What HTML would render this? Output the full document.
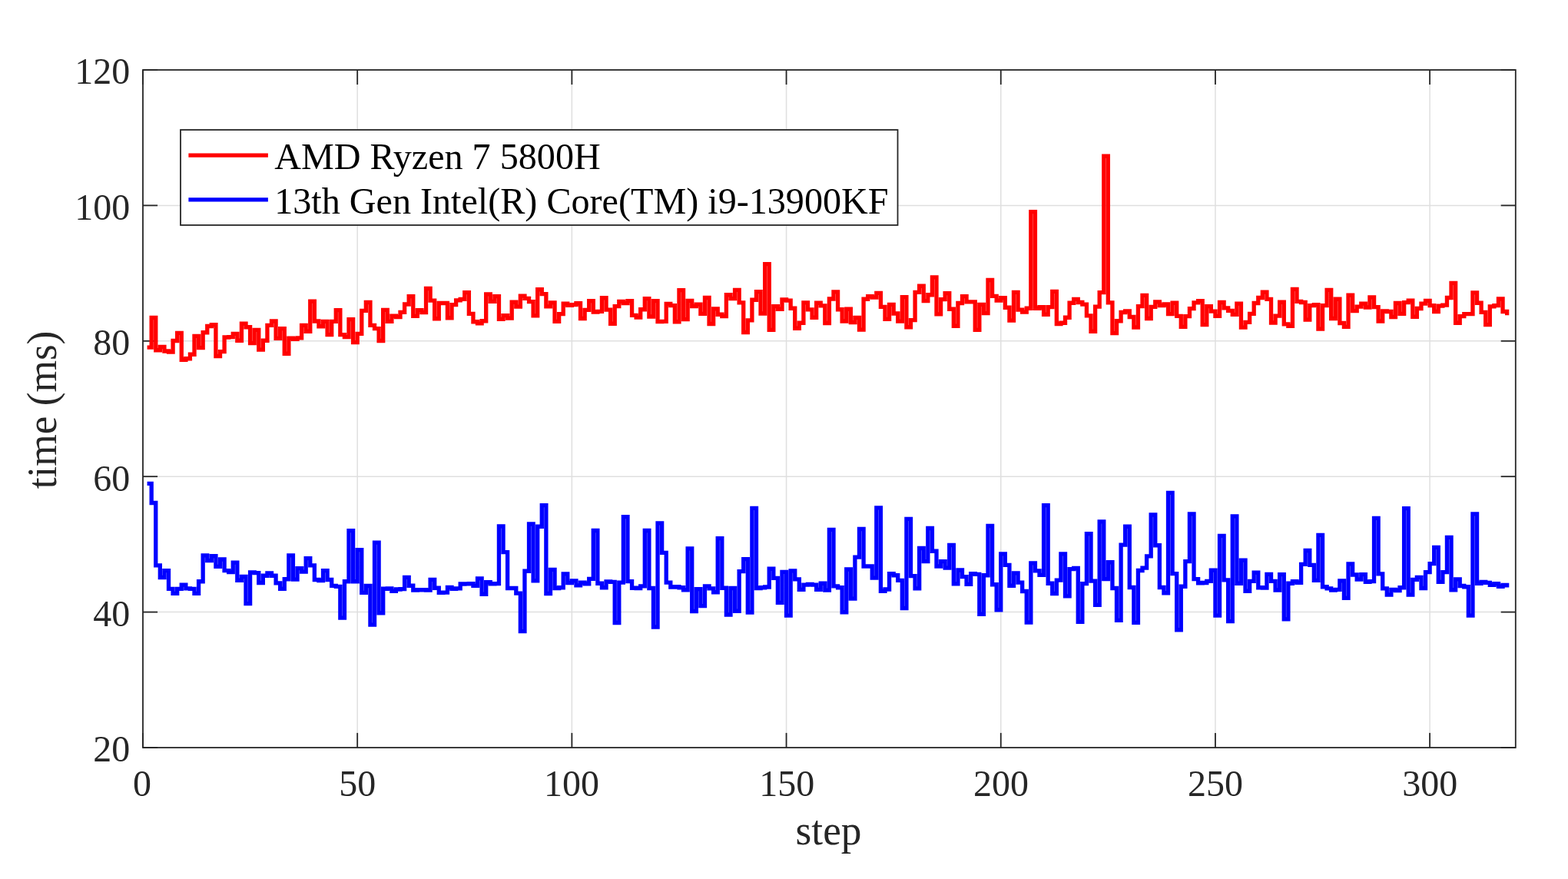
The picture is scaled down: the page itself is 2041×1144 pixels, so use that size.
<!DOCTYPE html>
<html lang="en">
<head>
<meta charset="utf-8">
<title>step time comparison</title>
<style>
html,body{margin:0;padding:0;background:#fff;}
body{width:2041px;height:1144px;overflow:hidden;position:relative;}
svg{position:absolute;left:0;top:0;display:block;}
text{font-family:"Liberation Serif",serif;fill:#262626;}
.tick{font-size:48px;}
.lab{font-size:53.3px;}
.leg{font-size:48.15px;fill:#000000;}
</style>
</head>
<body>
<svg width="2041" height="1144" viewBox="0 0 2041 1144">
<rect x="0" y="0" width="2041" height="1144" fill="#ffffff"/>
<g stroke="#dfdfdf" stroke-width="1.5" fill="none">
<line x1="465.19" y1="91.0" x2="465.19" y2="973.0"/>
<line x1="744.38" y1="91.0" x2="744.38" y2="973.0"/>
<line x1="1023.56" y1="91.0" x2="1023.56" y2="973.0"/>
<line x1="1302.75" y1="91.0" x2="1302.75" y2="973.0"/>
<line x1="1581.94" y1="91.0" x2="1581.94" y2="973.0"/>
<line x1="1861.12" y1="91.0" x2="1861.12" y2="973.0"/>
<line x1="186.0" y1="796.60" x2="1972.8" y2="796.60"/>
<line x1="186.0" y1="620.20" x2="1972.8" y2="620.20"/>
<line x1="186.0" y1="443.80" x2="1972.8" y2="443.80"/>
<line x1="186.0" y1="267.40" x2="1972.8" y2="267.40"/>
</g>
<g stroke="#262626" stroke-width="1.8" fill="none" stroke-linecap="butt">
<rect x="186.0" y="91.0" width="1786.8" height="882.0"/>
<line x1="186.00" y1="973.0" x2="186.00" y2="953.9"/><line x1="186.00" y1="91.0" x2="186.00" y2="110.1"/>
<line x1="465.19" y1="973.0" x2="465.19" y2="953.9"/><line x1="465.19" y1="91.0" x2="465.19" y2="110.1"/>
<line x1="744.38" y1="973.0" x2="744.38" y2="953.9"/><line x1="744.38" y1="91.0" x2="744.38" y2="110.1"/>
<line x1="1023.56" y1="973.0" x2="1023.56" y2="953.9"/><line x1="1023.56" y1="91.0" x2="1023.56" y2="110.1"/>
<line x1="1302.75" y1="973.0" x2="1302.75" y2="953.9"/><line x1="1302.75" y1="91.0" x2="1302.75" y2="110.1"/>
<line x1="1581.94" y1="973.0" x2="1581.94" y2="953.9"/><line x1="1581.94" y1="91.0" x2="1581.94" y2="110.1"/>
<line x1="1861.12" y1="973.0" x2="1861.12" y2="953.9"/><line x1="1861.12" y1="91.0" x2="1861.12" y2="110.1"/>
<line x1="186.0" y1="973.00" x2="205.1" y2="973.00"/><line x1="1972.8" y1="973.00" x2="1953.7" y2="973.00"/>
<line x1="186.0" y1="796.60" x2="205.1" y2="796.60"/><line x1="1972.8" y1="796.60" x2="1953.7" y2="796.60"/>
<line x1="186.0" y1="620.20" x2="205.1" y2="620.20"/><line x1="1972.8" y1="620.20" x2="1953.7" y2="620.20"/>
<line x1="186.0" y1="443.80" x2="205.1" y2="443.80"/><line x1="1972.8" y1="443.80" x2="1953.7" y2="443.80"/>
<line x1="186.0" y1="267.40" x2="205.1" y2="267.40"/><line x1="1972.8" y1="267.40" x2="1953.7" y2="267.40"/>
<line x1="186.0" y1="91.00" x2="205.1" y2="91.00"/><line x1="1972.8" y1="91.00" x2="1953.7" y2="91.00"/>
</g>
<path d="M191.58 452.08H197.17V413.49H202.75V455.75H208.34V451.46H213.92V456.98H219.50V458.20H225.09V443.50H230.67V433.34H236.25V468.25H241.84V466.78H247.42V461.26H253.00V437.38H258.59V452.69H264.17V432.72H269.76V424.52H275.34V422.68H280.92V463.47H286.51V457.59H292.09V438.97H297.68V438.60H303.26V434.32H308.84V443.26H314.43V421.09H320.01V425.74H325.59V446.57H331.18V429.42H336.76V455.14H342.35V443.26H347.93V423.29H353.51V418.03H359.10V440.44H364.68V427.58H370.26V460.28H375.85V440.20H381.43V441.42H387.01V439.83H392.60V423.29H398.18V431.25H403.77V392.06H409.35V418.03H414.93V424.76H420.52V418.39H426.10V435.54H431.69V418.39H437.27V403.69H442.85V435.54H448.44V438.60H454.02V415.58H459.60V445.59H465.19V434.32H470.77V404.31H476.35V393.53H481.94V423.29H487.52V427.58H493.11V443.50H498.69V403.33H504.27V418.39H509.86V411.04H515.44V412.51H521.02V406.39H526.61V395.98H532.19V385.69H537.78V411.29H543.36V403.69H548.94V406.51H554.53V375.52H560.11V391.20H565.69V414.72H571.28V394.51H576.86V394.51H582.45V413.74H588.03V396.59H593.61V390.83H599.20V389.36H604.78V380.67H610.37V408.35H615.95V418.76H621.53V420.84H627.12V417.78H632.70V382.87H638.28V392.43H643.87V385.57H649.45V415.33H655.03V410.68H660.62V414.11H666.20V393.04H671.79V399.04H677.37V385.08H682.95V388.38H688.54V392.67H694.12V410.80H699.71V376.75H705.29V382.63H710.87V398.79H716.46V393.90H722.04V418.39H727.62V408.59H733.21V395.12H738.79V397.32H744.38V396.59H749.96V394.75H755.54V414.47H761.13V403.33H766.71V391.69H772.29V406.14H777.88V405.29H783.46V387.77H789.04V403.08H794.63V421.21H800.21V398.55H805.80V392.43H811.38V394.51H816.96V391.69H822.55V410.43H828.13V413.13H833.71V402.71H839.30V388.63H844.88V412.02H850.47V391.69H856.05V418.64H861.63V418.39H867.22V395.37H872.80V397.57H878.38V418.76H883.97V377.60H889.55V415.58H895.14V391.45H900.72V398.55H906.30V396.10H911.89V408.35H917.47V387.53H923.06V421.46H928.64V401.86H934.22V409.21H939.81V411.66H945.39V383.73H950.97V388.63H956.56V377.36H962.14V393.90H967.73V432.48H973.31V416.80H978.89V390.22H984.48V379.56H990.06V407.98H995.64V343.67H1001.23V429.42H1006.81V398.55H1012.39V402.22H1017.98V389.98H1023.56V391.20H1029.15V401.24H1034.73V427.21H1040.31V420.23H1045.90V393.90H1051.48V402.84H1057.07V413.25H1062.65V394.26H1068.23V397.81H1073.82V420.48H1079.40V389.00H1084.98V379.81H1090.57V402.71H1096.15V418.03H1101.74V402.22H1107.32V419.62H1112.90V413.49H1118.49V429.17H1124.07V389.24H1129.65V385.57H1135.24V387.16H1140.82V381.40H1146.40V399.41H1151.99V415.33H1157.57V396.34H1163.16V407.98H1168.74V418.15H1174.32V386.55H1179.91V425.74H1185.49V416.56H1191.08V380.42H1196.66V372.21H1202.24V391.69H1207.83V383.73H1213.41V360.82H1218.99V408.84H1224.58V389.61H1230.16V381.65H1235.74V402.22H1241.33V424.27H1246.91V394.51H1252.50V385.57H1258.08V392.92H1263.66V392.92H1269.25V429.42H1274.83V396.34H1280.41V407.61H1286.00V364.50H1291.58V385.32H1297.17V391.20H1302.75V387.77H1308.33V400.26H1313.92V417.17H1319.50V380.42H1325.09V403.08H1330.67V406.14H1336.25V401.24H1341.84V275.60H1347.42V401.24H1353.00V399.77H1358.59V409.21H1364.17V399.65H1369.75V379.44H1375.34V421.46H1380.92V420.23H1386.51V413.25H1392.09V394.26H1397.67V389.36H1403.26V393.53H1408.84V396.10H1414.42V410.80H1420.01V431.25H1425.59V399.04H1431.18V380.67H1436.76V203.05H1442.34V393.90H1447.93V433.70H1453.51V417.78H1459.09V406.51H1464.68V404.92H1470.26V412.51H1475.85V425.99H1481.43V398.55H1487.01V384.34H1492.60V414.47H1498.18V399.41H1503.76V392.92H1509.35V397.57H1514.93V395.98H1520.52V408.59H1526.10V394.26H1531.68V411.41H1537.27V425.37H1542.85V411.66H1548.43V401.61H1554.02V393.90H1559.60V391.69H1565.19V422.68H1570.77V398.55H1576.35V405.16H1581.94V411.41H1587.52V393.53H1593.11V400.88H1598.69V404.31H1604.27V409.45H1609.86V395.12H1615.44V426.11H1621.02V419.37H1626.61V408.35H1632.19V394.51H1637.78V387.53H1643.36V380.18H1648.94V389.36H1654.53V419.99H1660.11V411.04H1665.69V393.28H1671.28V421.82H1676.86V424.27H1682.44V376.38H1688.03V392.43H1693.61V393.53H1699.20V416.19H1704.78V397.57H1710.36V396.59H1715.95V428.19H1721.53V397.57H1727.12V377.36H1732.70V414.47H1738.28V389.24H1743.87V420.48H1749.45V425.37H1755.03V384.10H1760.62V404.55H1766.20V399.16H1771.79V395.12H1777.37V400.02H1782.95V386.79H1788.54V399.65H1794.12V418.03H1799.70V404.92H1805.29V405.53H1810.87V412.51H1816.45V394.51H1822.04V408.35H1827.62V393.65H1833.21V391.20H1838.79V412.27H1844.37V401.49H1849.96V395.12H1855.54V391.45H1861.12V397.57H1866.71V405.53H1872.29V398.18H1877.88V397.20H1883.46V387.53H1889.04V368.42H1894.63V420.23H1900.21V411.66H1905.80V408.59H1911.38V408.59H1916.96V380.79H1922.55V394.26H1928.13V406.39H1933.71V422.68H1939.30V398.79H1944.88V397.57H1950.46V389.00H1956.05V405.53H1961.63M1961.63 402.86V410.28" fill="none" stroke="#ff0000" stroke-width="5.33" stroke-linejoin="miter" stroke-linecap="butt"/>
<path d="M191.58 629.36H197.17V654.48H202.75V735.91H208.34V751.51H213.92V742.60H219.50V766.37H225.09V772.32H230.67V766.37H236.25V761.17H241.84V765.93H247.42V766.37H253.00V772.32H258.59V756.71H264.17V722.83H269.76V729.67H275.34V723.72H280.92V737.40H286.51V728.03H292.09V742.60H297.68V744.53H303.26V732.19H308.84V755.23H314.43V750.47H320.01V785.69H325.59V744.83H331.18V745.57H336.76V758.50H342.35V749.28H347.93V746.01H353.51V749.28H359.10V758.94H364.68V766.37H370.26V753.74H375.85V722.83H381.43V754.04H387.01V739.62H392.60V744.08H398.18V726.70H403.77V735.91H409.35V754.48H414.93V755.52H420.52V742.60H426.10V754.48H431.69V762.36H437.27V763.40H442.85V804.14H448.44V756.71H454.02V690.59H459.60V756.71H465.19V715.55H470.77V771.45H476.35V762.53H481.94V813.06H487.52V706.07H493.11V797.90H498.69V766.25H504.27V765.80H509.86V769.22H515.44V766.99H521.02V766.70H526.61V751.39H532.19V762.24H537.78V768.18H543.36V767.74H548.94V767.74H554.53V768.18H560.11V754.36H565.69V765.21H571.28V771.45H576.86V771.15H582.45V764.32H588.03V766.25H593.61V765.80H599.20V760.01H604.78V759.86H610.37V759.56H615.95V762.24H621.53V752.88H627.12V773.23H632.70V757.78H638.28V759.86H643.87V759.56H649.45V684.82H655.03V718.70H660.62V765.51H666.20V765.51H671.79V772.19H677.37V821.68H682.95V743.22H688.54V681.99H694.12V755.85H699.71V685.26H705.29V657.70H710.87V772.49H716.46V741.43H722.04V765.51H727.62V764.76H733.21V746.93H738.79V758.52H744.38V755.85H749.96V761.79H755.54V758.08H761.13V759.86H766.71V753.32H772.29V690.46H777.88V759.27H783.46V764.76H789.04V756.89H794.63V757.33H800.21V810.53H805.80V758.08H811.38V672.63H816.96V756.59H822.55V765.21H828.13V765.51H833.71V762.83H839.30V690.46H844.88V765.51H850.47V816.03H856.05V680.80H861.63V719.44H867.22V758.08H872.80V764.02H878.38V763.58H883.97V764.76H889.55V767.74H895.14V713.79H900.72V795.52H906.30V766.70H911.89V788.54H917.47V762.83H923.06V765.80H928.64V770.71H934.22V700.57H939.81V765.21H945.39V799.98H950.97V765.51H956.56V795.23H962.14V743.66H967.73V727.61H973.31V797.01H978.89V661.40H984.48V765.51H990.06V764.76H995.64V764.02H1001.23V740.24H1006.81V752.43H1012.39V784.38H1017.98V744.41H1023.56V801.17H1029.15V742.92H1034.73V753.92H1040.31V767.29H1045.90V761.05H1051.48V760.31H1057.07V761.05H1062.65V767.29H1068.23V759.27H1073.82V768.18H1079.40V689.42H1084.98V762.83H1090.57V764.76H1096.15V796.71H1101.74V740.99H1107.32V779.18H1112.90V725.09H1118.49V688.53H1124.07V736.98H1129.65V736.98H1135.24V752.13H1140.82V660.90H1146.40V769.22H1151.99V766.99H1157.57V746.63H1163.16V748.72H1168.74V755.40H1174.32V791.51H1179.91V675.31H1185.49V749.61H1191.08V765.95H1196.66V713.50H1202.24V730.59H1207.83V687.49H1213.41V717.21H1218.99V736.98H1224.58V730.59H1230.16V739.20H1235.74V709.48H1241.33V759.86H1246.91V742.03H1252.50V750.65H1258.08V760.31H1263.66V746.63H1269.25V747.38H1274.83V799.24H1280.41V748.72H1286.00V684.52H1291.58V760.75H1297.17V793.74H1302.75V720.93H1308.33V735.34H1313.92V762.24H1319.50V745.89H1325.09V758.08H1330.67V769.52H1336.25V810.09H1341.84V732.81H1347.42V742.92H1353.00V748.42H1358.59V657.70H1364.17V759.27H1369.75V772.49H1375.34V755.10H1380.92V720.93H1386.51V775.91H1392.09V740.54H1397.67V739.50H1403.26V809.34H1408.84V759.56H1414.42V694.62H1420.01V756.15H1425.59V787.35H1431.18V678.87H1436.76V753.62H1442.34V731.77H1447.93V765.51H1453.51V807.41H1459.09V709.04H1464.68V685.26H1470.26V764.47H1475.85V810.38H1481.43V742.47H1487.01V739.06H1492.60V723.90H1498.18V669.96H1503.76V709.78H1509.35V764.47H1514.93V771.75H1520.52V641.30H1526.10V746.63H1531.68V819.75H1537.27V763.28H1542.85V730.59H1548.43V668.92H1554.02V753.62H1559.60V758.82H1565.19V758.52H1570.77V756.29H1576.35V742.18H1581.94V801.17H1587.52V697.45H1593.11V754.81H1598.69V808.60H1604.27V671.89H1609.86V759.27H1615.44V729.10H1621.02V769.22H1626.61V756.29H1632.19V745.15H1637.78V764.76H1643.36V765.06H1648.94V747.38H1654.53V756.29H1660.11V768.03H1665.69V747.67H1671.28V805.93H1676.86V759.27H1682.44V756.59H1688.03V758.37H1693.61V734.30H1699.20V716.47H1704.78V735.34H1710.36V755.40H1715.95V696.41H1721.53V763.72H1727.12V765.80H1732.70V768.18H1738.28V767.29H1743.87V755.85H1749.45V778.44H1755.03V733.85H1760.62V747.97H1766.20V754.06H1771.79V747.67H1777.37V757.33H1782.95V756.59H1788.54V674.41H1794.12V746.93H1799.70V765.80H1805.29V774.13H1810.87V767.29H1816.45V768.48H1822.04V764.76H1827.62V661.60H1833.21V774.13H1838.79V754.36H1844.37V751.39H1849.96V765.51H1855.54V744.70H1861.12V733.56H1866.71V712.31H1872.29V757.33H1877.88V744.70H1883.46V699.38H1889.04V767.74H1894.63V753.92H1900.21V762.53H1905.80V763.72H1911.38V801.17H1916.96V668.92H1922.55V759.27H1928.13V757.33H1933.71V758.37H1939.30V761.35H1944.88V759.56H1950.46V763.28H1956.05V761.49H1961.63M1961.63 758.83V764.45" fill="none" stroke="#0000ff" stroke-width="5.33" stroke-linejoin="miter" stroke-linecap="butt"/>
<text class="tick" transform="translate(184.90,1036.40) scale(1,1.03)" text-anchor="middle">0</text>
<text class="tick" transform="translate(465.19,1036.40) scale(1,1.03)" text-anchor="middle">50</text>
<text class="tick" transform="translate(744.08,1036.40) scale(1,1.03)" text-anchor="middle">100</text>
<text class="tick" transform="translate(1024.36,1036.40) scale(1,1.03)" text-anchor="middle">150</text>
<text class="tick" transform="translate(1303.10,1036.40) scale(1,1.03)" text-anchor="middle">200</text>
<text class="tick" transform="translate(1582.09,1036.40) scale(1,1.03)" text-anchor="middle">250</text>
<text class="tick" transform="translate(1861.12,1036.40) scale(1,1.03)" text-anchor="middle">300</text>
<text class="tick" transform="translate(169.30,991.30) scale(1,1.03)" text-anchor="end">20</text>
<text class="tick" transform="translate(169.30,814.90) scale(1,1.03)" text-anchor="end">40</text>
<text class="tick" transform="translate(169.30,638.50) scale(1,1.03)" text-anchor="end">60</text>
<text class="tick" transform="translate(169.30,462.10) scale(1,1.03)" text-anchor="end">80</text>
<text class="tick" transform="translate(169.30,285.70) scale(1,1.03)" text-anchor="end">100</text>
<text class="tick" transform="translate(169.30,109.30) scale(1,1.03)" text-anchor="end">120</text>
<text class="lab" transform="translate(1078.50,1099.30) scale(1,1.03)" text-anchor="middle">step</text>
<text class="lab" transform="translate(73.30,533.50) rotate(-90) scale(1,1.03)" text-anchor="middle">time (ms)</text>
<rect x="235" y="169" width="933.5" height="124" fill="#ffffff" stroke="#262626" stroke-width="1.8"/>
<line x1="245.4" y1="202.2" x2="348.9" y2="202.2" stroke="#ff0000" stroke-width="5.33"/>
<line x1="245.4" y1="259.8" x2="348.9" y2="259.8" stroke="#0000ff" stroke-width="5.33"/>
<text class="leg" transform="translate(357.20,219.80) scale(1,1.03)">AMD Ryzen 7 5800H</text>
<text class="leg" transform="translate(357.20,278.00) scale(1,1.03)">13th Gen Intel(R) Core(TM) i9-13900KF</text>
</svg>
</body>
</html>
